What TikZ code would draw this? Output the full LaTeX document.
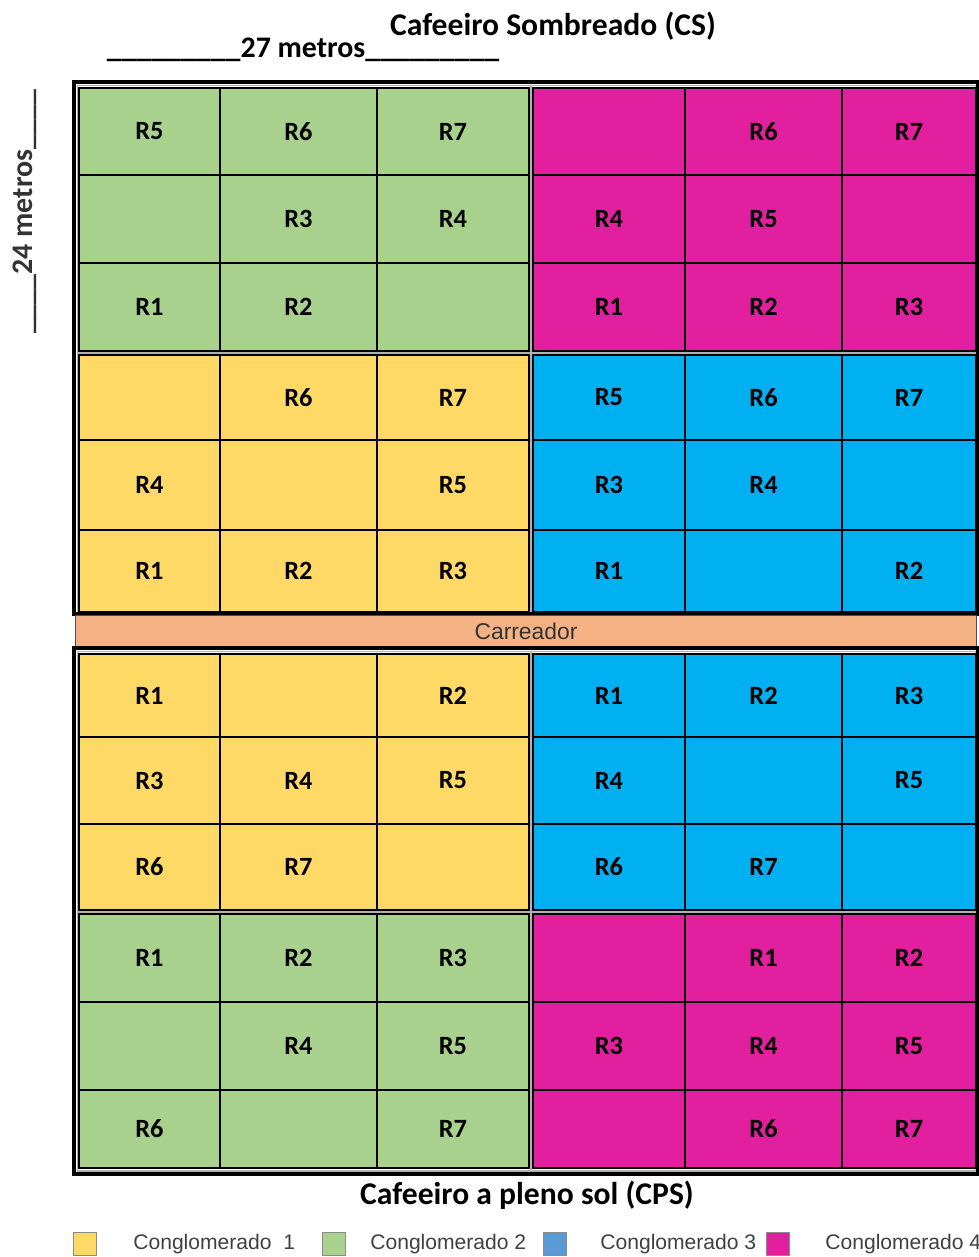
\documentclass[tikz,border=0pt]{standalone}
\usepackage{fontspec}
\setmainfont{Carlito}
\newfontfamily\arialfont{Liberation Sans}
\usepackage{xcolor}
\usetikzlibrary{positioning}

\definecolor{grn}{HTML}{A9D18E}
\definecolor{mag}{HTML}{E2209F}
\definecolor{yel}{HTML}{FFD966}
\definecolor{cyb}{HTML}{00B0F0}
\definecolor{legblue}{HTML}{5B9BD5}
\definecolor{road}{HTML}{F4B183}

% one 3x3 quadrant: x0..x3, y0..y3, fill colour
\newcommand{\quadcells}[9]{%
  \fill[#9] (#1,#5) rectangle (#4,#8);
  \draw[cellline] (#2,#5) -- (#2,#8) (#3,#5) -- (#3,#8) (#1,#6) -- (#4,#6) (#1,#7) -- (#4,#7);
  \draw[quadline] (#1,#5) rectangle (#4,#8);
  \pgfmathsetmacro\cA{(#1+#2)/2}\pgfmathsetmacro\cB{(#2+#3)/2}\pgfmathsetmacro\cC{(#3+#4)/2}%
  \pgfmathsetmacro\rA{(#5+#6)/2}\pgfmathsetmacro\rB{(#6+#7)/2}\pgfmathsetmacro\rC{(#7+#8)/2}%
}

\begin{document}
\begin{tikzpicture}[
    x=0.02cm, y=-0.02cm,
    rlab/.style={font=\fontsize{15}{15}\selectfont\bfseries, inner sep=0pt},
    title/.style={font=\fontsize{18}{18}\selectfont\bfseries, inner sep=0pt},
    measure/.style={font=\fontsize{17}{17}\selectfont\bfseries, inner sep=0pt},
    legtext/.style={font=\arialfont\fontsize{12}{12}\selectfont, text=black!75, anchor=west, inner sep=0pt},
    legbox/.style={draw=black!45, line width=0.8pt, minimum width=0.46cm, minimum height=0.46cm, inner sep=0pt},
    cellline/.style={line width=0.8pt, black},
    quadline/.style={line width=1.3pt, black},
    frame/.style={line width=2.4pt, black},
    gapline/.style={line width=0.6pt, black!30},
]
    \useasboundingbox (0,0) rectangle (979,1257);

    % titles and measures
    \node[title] (cs) at (553,26) {Cafeeiro Sombreado (CS)};
    \node[measure] (w27) at (303,50) {\_\_\_\_\_\_\_\_\_27 metros\_\_\_\_\_\_\_\_\_};
    \node[measure, rotate=90, text=black!80] (h24) at (25,212) {\_\_\_\_24 metros\_\_\_\_};

    % upper block (CS)
    \draw[frame] (74,82) rectangle (978,614);
    \draw[gapline] (77.5,85.5) rectangle (975.5,611) (531,85.5) -- (531,611) (77.5,353) -- (975.5,353);

    \quadcells{79}{220}{377}{529}{88}{175}{263}{351}{grn}
    \foreach \lab/\c/\r in {R5/\cA/\rA, R6/\cB/\rA, R7/\cC/\rA, R3/\cB/\rB, R4/\cC/\rB, R1/\cA/\rC, R2/\cB/\rC}
        \node[rlab] (csg-\lab) at (\c,\r) {\lab};

    \quadcells{533}{685}{842}{976}{88}{175}{263}{351}{mag}
    \foreach \lab/\c/\r in {R6/\cB/\rA, R7/\cC/\rA, R4/\cA/\rB, R5/\cB/\rB, R1/\cA/\rC, R2/\cB/\rC, R3/\cC/\rC}
        \node[rlab] (csm-\lab) at (\c,\r) {\lab};

    \quadcells{79}{220}{377}{529}{355}{440}{530}{612}{yel}
    \foreach \lab/\c/\r in {R6/\cB/\rA, R7/\cC/\rA, R4/\cA/\rB, R5/\cC/\rB, R1/\cA/\rC, R2/\cB/\rC, R3/\cC/\rC}
        \node[rlab] (csy-\lab) at (\c,\r) {\lab};

    \quadcells{533}{685}{842}{976}{355}{440}{530}{612}{cyb}
    \foreach \lab/\c/\r in {R5/\cA/\rA, R6/\cB/\rA, R7/\cC/\rA, R3/\cA/\rB, R4/\cB/\rB, R1/\cA/\rC, R2/\cC/\rC}
        \node[rlab] (csb-\lab) at (\c,\r) {\lab};

    % road between the two blocks
    \node[draw=black!70, line width=0.5pt, fill=road, minimum width=18.04cm, minimum height=0.62cm,
          inner sep=0pt, font=\arialfont\fontsize{13}{13}\selectfont, text=black!80] (carreador) at (526,631) {Carreador};

    % lower block (CPS)
    \draw[frame] (74,648) rectangle (978,1174);
    \draw[gapline] (77.5,651.5) rectangle (975.5,1171) (531,651.5) -- (531,1171) (77.5,912) -- (975.5,912);

    \quadcells{79}{220}{377}{529}{654}{737}{824}{910}{yel}
    \foreach \lab/\c/\r in {R1/\cA/\rA, R2/\cC/\rA, R3/\cA/\rB, R4/\cB/\rB, R5/\cC/\rB, R6/\cA/\rC, R7/\cB/\rC}
        \node[rlab] (cpy-\lab) at (\c,\r) {\lab};

    \quadcells{533}{685}{842}{976}{654}{737}{824}{910}{cyb}
    \foreach \lab/\c/\r in {R1/\cA/\rA, R2/\cB/\rA, R3/\cC/\rA, R4/\cA/\rB, R5/\cC/\rB, R6/\cA/\rC, R7/\cB/\rC}
        \node[rlab] (cpb-\lab) at (\c,\r) {\lab};

    \quadcells{79}{220}{377}{529}{914}{1002}{1090}{1168}{grn}
    \foreach \lab/\c/\r in {R1/\cA/\rA, R2/\cB/\rA, R3/\cC/\rA, R4/\cB/\rB, R5/\cC/\rB, R6/\cA/\rC, R7/\cC/\rC}
        \node[rlab] (cpg-\lab) at (\c,\r) {\lab};

    \quadcells{533}{685}{842}{976}{914}{1002}{1090}{1168}{mag}
    \foreach \lab/\c/\r in {R1/\cB/\rA, R2/\cC/\rA, R3/\cA/\rB, R4/\cB/\rB, R5/\cC/\rB, R6/\cB/\rC, R7/\cC/\rC}
        \node[rlab] (cpm-\lab) at (\c,\r) {\lab};

    \node[title] (cps) at (527,1195) {Cafeeiro a pleno sol (CPS)};

    % legend
    \node[legbox, fill=yel] (leg1) at (85,1244) {};
    \node[legtext] (legt1) at (133,1244) {Conglomerado \ 1};
    \node[legbox, fill=grn] (leg2) at (334,1244) {};
    \node[legtext] (legt2) at (370,1244) {Conglomerado 2};
    \node[legbox, fill=legblue] (leg3) at (555,1244) {};
    \node[legtext] (legt3) at (600,1244) {Conglomerado 3};
    \node[legbox, fill=mag] (leg4) at (778,1244) {};
    \node[legtext] (legt4) at (825,1244) {Conglomerado 4};
\end{tikzpicture}
\end{document}
